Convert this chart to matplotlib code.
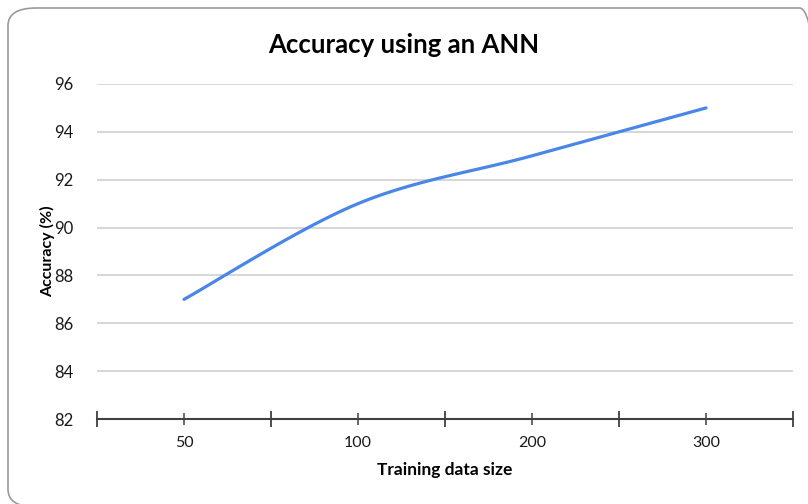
import numpy as np
import matplotlib.pyplot as plt
from matplotlib.patches import FancyBboxPatch

# data
sizes = ['50', '100', '200', '300']
accuracy = [87, 91, 93, 95]
y_ticks = [82, 84, 86, 88, 90, 92, 94, 96]

plt.rcParams['font.family'] = ['Lato', 'DejaVu Sans']


def smooth(xs, ys, n=40):
    # catmull-rom through the points, like a spreadsheet "smoothed line"
    px = np.concatenate([[xs[0]], xs, [xs[-1]]])
    py = np.concatenate([[ys[0]], ys, [ys[-1]]])
    outx, outy = [], []
    t = np.linspace(0, 1, n)
    for i in range(1, len(px) - 2):
        p0, p1, p2, p3 = [np.array([px[j], py[j]]) for j in range(i - 1, i + 3)]
        c1 = p1 + (p2 - p0) / 6
        c2 = p2 - (p3 - p1) / 6
        pts = ((1 - t) ** 3)[:, None] * p1 + (3 * (1 - t) ** 2 * t)[:, None] * c1 \
            + (3 * (1 - t) * t ** 2)[:, None] * c2 + (t ** 3)[:, None] * p2
        outx.extend(pts[:, 0])
        outy.extend(pts[:, 1])
    return outx, outy


fig = plt.figure(figsize=(8.08, 5.04), dpi=100)
ax = fig.add_axes([97 / 808, (504 - 419) / 504, 696 / 808, 335 / 504])

xs = np.arange(len(sizes), dtype=float)
sx, sy = smooth(xs, np.array(accuracy, dtype=float))
ax.plot(sx, sy, color='#4a86e8', lw=2.3, solid_capstyle='round', zorder=3)

ax.set_xlim(-0.5, len(sizes) - 0.5)
ax.set_ylim(82, 96)
ax.set_yticks(y_ticks)
ax.set_xticks(np.arange(len(sizes) + 1) - 0.5)
ax.set_xticklabels([])
ax.set_xticks(xs, minor=True)
ax.set_xticklabels(sizes, minor=True)

ax.grid(axis='y', color='#d0d0d0', lw=1.2)
ax.set_axisbelow(True)
for s in ['left', 'right', 'top']:
    ax.spines[s].set_visible(False)
ax.spines['bottom'].set_color('#404040')
ax.spines['bottom'].set_linewidth(1.5)

ax.tick_params(axis='y', length=0, pad=17, labelsize=12, labelcolor='#1a1a1a')
ax.tick_params(axis='x', which='major', direction='inout', length=12, width=1.3,
               color='#404040')
ax.tick_params(axis='x', which='minor', direction='inout', length=8, width=1.1,
               color='#404040', pad=8, labelsize=11.5, labelcolor='#1a1a1a')

ax.set_xlabel('Training data size', fontsize=12.5, fontweight='bold', labelpad=9)
ax.set_ylabel('Accuracy (%)', fontsize=11.5, fontweight='bold')
ax.yaxis.set_label_coords(-0.060, 0.5)
fig.text(0.5, 0.91, 'Accuracy using an ANN', ha='center', va='center',
         fontsize=18.5, fontweight='bold')

box = FancyBboxPatch((8 / 808, -3 / 504), 820 / 808, 499 / 504,
                     boxstyle='round,pad=0,rounding_size=0.035',
                     transform=fig.transFigure, fill=False,
                     edgecolor='#9a9a9a', lw=1.2)
fig.patches.append(box)

fig.savefig('out.png', dpi=100)
